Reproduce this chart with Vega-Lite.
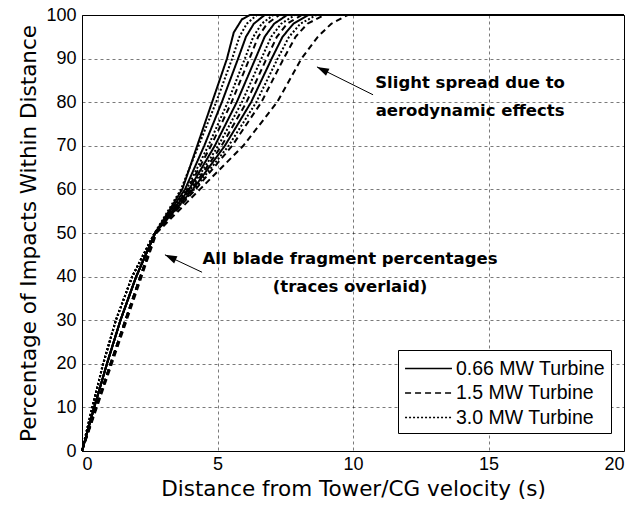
{
  "$schema": "https://vega.github.io/schema/vega-lite/v6.json",
  "width": 542,
  "height": 436,
  "autosize": {"type": "none"},
  "padding": {"left": 82, "top": 15, "right": 14, "bottom": 55},
  "background": "white",
  "config": {
    "view": {"stroke": "black", "strokeWidth": 1},
    "axis": {
      "domain": false,
      "ticks": false,
      "grid": true,
      "gridDash": [3, 3],
      "gridColor": "#000000",
      "gridWidth": 0.7,
      "gridOpacity": 0.75,
      "labelFont": "Liberation Sans",
      "labelFontSize": 18,
      "labelColor": "black",
      "titleFont": "DejaVu Sans",
      "titleFontSize": 21.5,
      "titleFontWeight": "normal",
      "titleColor": "black"
    }
  },
  "datasets": {
    "curves": [
      {"id": "S1", "turbine": "0.66 MW Turbine", "x": 0, "y": 0},
      {"id": "S1", "turbine": "0.66 MW Turbine", "x": 0.45, "y": 10},
      {"id": "S1", "turbine": "0.66 MW Turbine", "x": 0.92, "y": 20},
      {"id": "S1", "turbine": "0.66 MW Turbine", "x": 1.42, "y": 30},
      {"id": "S1", "turbine": "0.66 MW Turbine", "x": 2.0, "y": 40},
      {"id": "S1", "turbine": "0.66 MW Turbine", "x": 2.7, "y": 50},
      {"id": "S1", "turbine": "0.66 MW Turbine", "x": 3.7, "y": 60},
      {"id": "S1", "turbine": "0.66 MW Turbine", "x": 4.25, "y": 70},
      {"id": "S1", "turbine": "0.66 MW Turbine", "x": 4.8, "y": 80},
      {"id": "S1", "turbine": "0.66 MW Turbine", "x": 5.35, "y": 90},
      {"id": "S1", "turbine": "0.66 MW Turbine", "x": 5.6, "y": 96},
      {"id": "S1", "turbine": "0.66 MW Turbine", "x": 5.9, "y": 99},
      {"id": "S1", "turbine": "0.66 MW Turbine", "x": 6.2, "y": 100},
      {"id": "S1", "turbine": "0.66 MW Turbine", "x": 20, "y": 100},

      {"id": "T1", "turbine": "3.0 MW Turbine", "x": 0, "y": 0},
      {"id": "T1", "turbine": "3.0 MW Turbine", "x": 0.38, "y": 10},
      {"id": "T1", "turbine": "3.0 MW Turbine", "x": 0.78, "y": 20},
      {"id": "T1", "turbine": "3.0 MW Turbine", "x": 1.25, "y": 30},
      {"id": "T1", "turbine": "3.0 MW Turbine", "x": 1.85, "y": 40},
      {"id": "T1", "turbine": "3.0 MW Turbine", "x": 2.68, "y": 50},
      {"id": "T1", "turbine": "3.0 MW Turbine", "x": 3.65, "y": 60},
      {"id": "T1", "turbine": "3.0 MW Turbine", "x": 4.3, "y": 70},
      {"id": "T1", "turbine": "3.0 MW Turbine", "x": 4.95, "y": 80},
      {"id": "T1", "turbine": "3.0 MW Turbine", "x": 5.54, "y": 90},
      {"id": "T1", "turbine": "3.0 MW Turbine", "x": 5.81, "y": 95},
      {"id": "T1", "turbine": "3.0 MW Turbine", "x": 6.08, "y": 98},
      {"id": "T1", "turbine": "3.0 MW Turbine", "x": 6.45, "y": 100},
      {"id": "T1", "turbine": "3.0 MW Turbine", "x": 20, "y": 100},

      {"id": "S2", "turbine": "0.66 MW Turbine", "x": 0, "y": 0},
      {"id": "S2", "turbine": "0.66 MW Turbine", "x": 0.45, "y": 10},
      {"id": "S2", "turbine": "0.66 MW Turbine", "x": 0.92, "y": 20},
      {"id": "S2", "turbine": "0.66 MW Turbine", "x": 1.42, "y": 30},
      {"id": "S2", "turbine": "0.66 MW Turbine", "x": 2.0, "y": 40},
      {"id": "S2", "turbine": "0.66 MW Turbine", "x": 2.7, "y": 50},
      {"id": "S2", "turbine": "0.66 MW Turbine", "x": 3.8, "y": 60},
      {"id": "S2", "turbine": "0.66 MW Turbine", "x": 4.51, "y": 70},
      {"id": "S2", "turbine": "0.66 MW Turbine", "x": 5.16, "y": 80},
      {"id": "S2", "turbine": "0.66 MW Turbine", "x": 5.76, "y": 90},
      {"id": "S2", "turbine": "0.66 MW Turbine", "x": 6.05, "y": 95},
      {"id": "S2", "turbine": "0.66 MW Turbine", "x": 6.34, "y": 98},
      {"id": "S2", "turbine": "0.66 MW Turbine", "x": 6.74, "y": 100},
      {"id": "S2", "turbine": "0.66 MW Turbine", "x": 20, "y": 100},

      {"id": "T2", "turbine": "3.0 MW Turbine", "x": 0, "y": 0},
      {"id": "T2", "turbine": "3.0 MW Turbine", "x": 0.38, "y": 10},
      {"id": "T2", "turbine": "3.0 MW Turbine", "x": 0.78, "y": 20},
      {"id": "T2", "turbine": "3.0 MW Turbine", "x": 1.25, "y": 30},
      {"id": "T2", "turbine": "3.0 MW Turbine", "x": 1.85, "y": 40},
      {"id": "T2", "turbine": "3.0 MW Turbine", "x": 2.68, "y": 50},
      {"id": "T2", "turbine": "3.0 MW Turbine", "x": 3.86, "y": 60},
      {"id": "T2", "turbine": "3.0 MW Turbine", "x": 4.66, "y": 70},
      {"id": "T2", "turbine": "3.0 MW Turbine", "x": 5.38, "y": 80},
      {"id": "T2", "turbine": "3.0 MW Turbine", "x": 6.01, "y": 90},
      {"id": "T2", "turbine": "3.0 MW Turbine", "x": 6.32, "y": 95},
      {"id": "T2", "turbine": "3.0 MW Turbine", "x": 6.63, "y": 98},
      {"id": "T2", "turbine": "3.0 MW Turbine", "x": 7.06, "y": 100},
      {"id": "T2", "turbine": "3.0 MW Turbine", "x": 20, "y": 100},

      {"id": "D1", "turbine": "1.5 MW Turbine", "x": 0, "y": 0},
      {"id": "D1", "turbine": "1.5 MW Turbine", "x": 0.52, "y": 10},
      {"id": "D1", "turbine": "1.5 MW Turbine", "x": 1.05, "y": 20},
      {"id": "D1", "turbine": "1.5 MW Turbine", "x": 1.6, "y": 30},
      {"id": "D1", "turbine": "1.5 MW Turbine", "x": 2.15, "y": 40},
      {"id": "D1", "turbine": "1.5 MW Turbine", "x": 2.72, "y": 50},
      {"id": "D1", "turbine": "1.5 MW Turbine", "x": 3.9, "y": 60},
      {"id": "D1", "turbine": "1.5 MW Turbine", "x": 4.76, "y": 70},
      {"id": "D1", "turbine": "1.5 MW Turbine", "x": 5.52, "y": 80},
      {"id": "D1", "turbine": "1.5 MW Turbine", "x": 6.18, "y": 90},
      {"id": "D1", "turbine": "1.5 MW Turbine", "x": 6.5, "y": 95},
      {"id": "D1", "turbine": "1.5 MW Turbine", "x": 6.83, "y": 98},
      {"id": "D1", "turbine": "1.5 MW Turbine", "x": 7.28, "y": 100},
      {"id": "D1", "turbine": "1.5 MW Turbine", "x": 20, "y": 100},

      {"id": "S3", "turbine": "0.66 MW Turbine", "x": 0, "y": 0},
      {"id": "S3", "turbine": "0.66 MW Turbine", "x": 0.45, "y": 10},
      {"id": "S3", "turbine": "0.66 MW Turbine", "x": 0.92, "y": 20},
      {"id": "S3", "turbine": "0.66 MW Turbine", "x": 1.42, "y": 30},
      {"id": "S3", "turbine": "0.66 MW Turbine", "x": 2.0, "y": 40},
      {"id": "S3", "turbine": "0.66 MW Turbine", "x": 2.7, "y": 50},
      {"id": "S3", "turbine": "0.66 MW Turbine", "x": 3.95, "y": 60},
      {"id": "S3", "turbine": "0.66 MW Turbine", "x": 4.9, "y": 70},
      {"id": "S3", "turbine": "0.66 MW Turbine", "x": 5.71, "y": 80},
      {"id": "S3", "turbine": "0.66 MW Turbine", "x": 6.4, "y": 90},
      {"id": "S3", "turbine": "0.66 MW Turbine", "x": 6.74, "y": 95},
      {"id": "S3", "turbine": "0.66 MW Turbine", "x": 7.09, "y": 98},
      {"id": "S3", "turbine": "0.66 MW Turbine", "x": 7.57, "y": 100},
      {"id": "S3", "turbine": "0.66 MW Turbine", "x": 20, "y": 100},

      {"id": "T3", "turbine": "3.0 MW Turbine", "x": 0, "y": 0},
      {"id": "T3", "turbine": "3.0 MW Turbine", "x": 0.38, "y": 10},
      {"id": "T3", "turbine": "3.0 MW Turbine", "x": 0.78, "y": 20},
      {"id": "T3", "turbine": "3.0 MW Turbine", "x": 1.25, "y": 30},
      {"id": "T3", "turbine": "3.0 MW Turbine", "x": 1.85, "y": 40},
      {"id": "T3", "turbine": "3.0 MW Turbine", "x": 2.68, "y": 50},
      {"id": "T3", "turbine": "3.0 MW Turbine", "x": 4.0, "y": 60},
      {"id": "T3", "turbine": "3.0 MW Turbine", "x": 5.03, "y": 70},
      {"id": "T3", "turbine": "3.0 MW Turbine", "x": 5.9, "y": 80},
      {"id": "T3", "turbine": "3.0 MW Turbine", "x": 6.62, "y": 90},
      {"id": "T3", "turbine": "3.0 MW Turbine", "x": 6.98, "y": 95},
      {"id": "T3", "turbine": "3.0 MW Turbine", "x": 7.35, "y": 98},
      {"id": "T3", "turbine": "3.0 MW Turbine", "x": 7.86, "y": 100},
      {"id": "T3", "turbine": "3.0 MW Turbine", "x": 20, "y": 100},

      {"id": "D2", "turbine": "1.5 MW Turbine", "x": 0, "y": 0},
      {"id": "D2", "turbine": "1.5 MW Turbine", "x": 0.52, "y": 10},
      {"id": "D2", "turbine": "1.5 MW Turbine", "x": 1.05, "y": 20},
      {"id": "D2", "turbine": "1.5 MW Turbine", "x": 1.6, "y": 30},
      {"id": "D2", "turbine": "1.5 MW Turbine", "x": 2.15, "y": 40},
      {"id": "D2", "turbine": "1.5 MW Turbine", "x": 2.72, "y": 50},
      {"id": "D2", "turbine": "1.5 MW Turbine", "x": 4.04, "y": 60},
      {"id": "D2", "turbine": "1.5 MW Turbine", "x": 5.15, "y": 70},
      {"id": "D2", "turbine": "1.5 MW Turbine", "x": 6.07, "y": 80},
      {"id": "D2", "turbine": "1.5 MW Turbine", "x": 6.81, "y": 90},
      {"id": "D2", "turbine": "1.5 MW Turbine", "x": 7.19, "y": 95},
      {"id": "D2", "turbine": "1.5 MW Turbine", "x": 7.57, "y": 98},
      {"id": "D2", "turbine": "1.5 MW Turbine", "x": 8.11, "y": 100},
      {"id": "D2", "turbine": "1.5 MW Turbine", "x": 20, "y": 100},

      {"id": "S4", "turbine": "0.66 MW Turbine", "x": 0, "y": 0},
      {"id": "S4", "turbine": "0.66 MW Turbine", "x": 0.45, "y": 10},
      {"id": "S4", "turbine": "0.66 MW Turbine", "x": 0.92, "y": 20},
      {"id": "S4", "turbine": "0.66 MW Turbine", "x": 1.42, "y": 30},
      {"id": "S4", "turbine": "0.66 MW Turbine", "x": 2.0, "y": 40},
      {"id": "S4", "turbine": "0.66 MW Turbine", "x": 2.7, "y": 50},
      {"id": "S4", "turbine": "0.66 MW Turbine", "x": 4.09, "y": 60},
      {"id": "S4", "turbine": "0.66 MW Turbine", "x": 5.27, "y": 70},
      {"id": "S4", "turbine": "0.66 MW Turbine", "x": 6.24, "y": 80},
      {"id": "S4", "turbine": "0.66 MW Turbine", "x": 7.0, "y": 90},
      {"id": "S4", "turbine": "0.66 MW Turbine", "x": 7.4, "y": 95},
      {"id": "S4", "turbine": "0.66 MW Turbine", "x": 7.8, "y": 98},
      {"id": "S4", "turbine": "0.66 MW Turbine", "x": 8.36, "y": 100},
      {"id": "S4", "turbine": "0.66 MW Turbine", "x": 20, "y": 100},

      {"id": "T4", "turbine": "3.0 MW Turbine", "x": 0, "y": 0},
      {"id": "T4", "turbine": "3.0 MW Turbine", "x": 0.38, "y": 10},
      {"id": "T4", "turbine": "3.0 MW Turbine", "x": 0.78, "y": 20},
      {"id": "T4", "turbine": "3.0 MW Turbine", "x": 1.25, "y": 30},
      {"id": "T4", "turbine": "3.0 MW Turbine", "x": 1.85, "y": 40},
      {"id": "T4", "turbine": "3.0 MW Turbine", "x": 2.68, "y": 50},
      {"id": "T4", "turbine": "3.0 MW Turbine", "x": 4.14, "y": 60},
      {"id": "T4", "turbine": "3.0 MW Turbine", "x": 5.41, "y": 70},
      {"id": "T4", "turbine": "3.0 MW Turbine", "x": 6.43, "y": 80},
      {"id": "T4", "turbine": "3.0 MW Turbine", "x": 7.22, "y": 90},
      {"id": "T4", "turbine": "3.0 MW Turbine", "x": 7.64, "y": 95},
      {"id": "T4", "turbine": "3.0 MW Turbine", "x": 8.06, "y": 98},
      {"id": "T4", "turbine": "3.0 MW Turbine", "x": 8.65, "y": 100},
      {"id": "T4", "turbine": "3.0 MW Turbine", "x": 20, "y": 100},

      {"id": "D3", "turbine": "1.5 MW Turbine", "x": 0, "y": 0},
      {"id": "D3", "turbine": "1.5 MW Turbine", "x": 0.52, "y": 10},
      {"id": "D3", "turbine": "1.5 MW Turbine", "x": 1.05, "y": 20},
      {"id": "D3", "turbine": "1.5 MW Turbine", "x": 1.6, "y": 30},
      {"id": "D3", "turbine": "1.5 MW Turbine", "x": 2.15, "y": 40},
      {"id": "D3", "turbine": "1.5 MW Turbine", "x": 2.72, "y": 50},
      {"id": "D3", "turbine": "1.5 MW Turbine", "x": 4.19, "y": 60},
      {"id": "D3", "turbine": "1.5 MW Turbine", "x": 5.54, "y": 70},
      {"id": "D3", "turbine": "1.5 MW Turbine", "x": 6.62, "y": 80},
      {"id": "D3", "turbine": "1.5 MW Turbine", "x": 7.44, "y": 90},
      {"id": "D3", "turbine": "1.5 MW Turbine", "x": 7.88, "y": 95},
      {"id": "D3", "turbine": "1.5 MW Turbine", "x": 8.32, "y": 98},
      {"id": "D3", "turbine": "1.5 MW Turbine", "x": 8.94, "y": 100},
      {"id": "D3", "turbine": "1.5 MW Turbine", "x": 20, "y": 100},

      {"id": "D4", "turbine": "1.5 MW Turbine", "x": 0, "y": 0},
      {"id": "D4", "turbine": "1.5 MW Turbine", "x": 0.55, "y": 10},
      {"id": "D4", "turbine": "1.5 MW Turbine", "x": 1.1, "y": 20},
      {"id": "D4", "turbine": "1.5 MW Turbine", "x": 1.65, "y": 30},
      {"id": "D4", "turbine": "1.5 MW Turbine", "x": 2.2, "y": 40},
      {"id": "D4", "turbine": "1.5 MW Turbine", "x": 2.75, "y": 50},
      {"id": "D4", "turbine": "1.5 MW Turbine", "x": 4.35, "y": 60},
      {"id": "D4", "turbine": "1.5 MW Turbine", "x": 5.95, "y": 70},
      {"id": "D4", "turbine": "1.5 MW Turbine", "x": 7.2, "y": 80},
      {"id": "D4", "turbine": "1.5 MW Turbine", "x": 8.1, "y": 90},
      {"id": "D4", "turbine": "1.5 MW Turbine", "x": 8.7, "y": 95},
      {"id": "D4", "turbine": "1.5 MW Turbine", "x": 9.2, "y": 98},
      {"id": "D4", "turbine": "1.5 MW Turbine", "x": 9.8, "y": 100},
      {"id": "D4", "turbine": "1.5 MW Turbine", "x": 20, "y": 100}
    ],
    "notes": [
      {"x": 9.89, "y": 44.0, "t": "All blade fragment percentages"},
      {"x": 9.89, "y": 37.6, "t": "(traces overlaid)"},
      {"x": 14.32, "y": 84.4, "t": "Slight spread due to"},
      {"x": 14.32, "y": 78.0, "t": "aerodynamic effects"}
    ],
    "arrows": [
      {"x": 4.43, "y": 41.0, "x2": 3.06, "y2": 45.0, "angle": 25},
      {"x": 10.74, "y": 81.7, "x2": 8.67, "y2": 88.1, "angle": 26}
    ]
  },
  "layer": [
    {
      "data": {"name": "curves"},
      "mark": {"type": "line", "strokeWidth": 2, "color": "black"},
      "encoding": {
        "x": {
          "field": "x", "type": "quantitative",
          "scale": {"domain": [0, 20], "nice": false},
          "axis": {"values": [0, 5, 10, 15, 20], "title": "Distance from Tower/CG velocity (s)", "labelPadding": 4, "titlePadding": 5}
        },
        "y": {
          "field": "y", "type": "quantitative",
          "scale": {"domain": [0, 100], "nice": false},
          "axis": {"values": [0, 10, 20, 30, 40, 50, 60, 70, 80, 90, 100], "title": "Percentage of Impacts Within Distance", "labelPadding": 6, "titlePadding": 5}
        },
        "detail": {"field": "id"},
        "strokeDash": {
          "field": "turbine", "type": "nominal",
          "scale": {
            "domain": ["0.66 MW Turbine", "1.5 MW Turbine", "3.0 MW Turbine"],
            "range": [[1, 0], [6, 4], [2, 2]]
          },
          "legend": {
            "title": null,
            "orient": "none",
            "legendX": 316,
            "legendY": 335,
            "direction": "vertical",
            "strokeColor": "black",
            "fillColor": "white",
            "padding": 6,
            "symbolType": "M-2,0H2",
            "symbolSize": 550,
            "symbolOffset": 12,
            "symbolStrokeColor": "black",
            "symbolStrokeWidth": 1.5,
            "labelFont": "Liberation Sans",
            "labelFontSize": 19.5,
            "labelColor": "black",
            "labelOffset": 15,
            "rowPadding": 2.5
          }
        }
      }
    },
    {
      "data": {"name": "arrows"},
      "mark": {"type": "rule", "color": "black", "strokeWidth": 1},
      "encoding": {
        "x": {"field": "x", "type": "quantitative"},
        "y": {"field": "y", "type": "quantitative"},
        "x2": {"field": "x2"},
        "y2": {"field": "y2"}
      }
    },
    {
      "data": {"name": "arrows"},
      "mark": {"type": "point", "filled": true, "color": "black", "opacity": 1, "shape": "M0,0L2,-0.65L2,0.65Z", "size": 144},
      "encoding": {
        "x": {"field": "x2", "type": "quantitative"},
        "y": {"field": "y2", "type": "quantitative"},
        "angle": {"field": "angle", "type": "quantitative", "scale": null}
      }
    },
    {
      "data": {"name": "notes"},
      "mark": {"type": "text", "font": "DejaVu Sans", "fontWeight": "bold", "fontSize": 16.5, "color": "black", "align": "center", "baseline": "middle"},
      "encoding": {
        "x": {"field": "x", "type": "quantitative"},
        "y": {"field": "y", "type": "quantitative"},
        "text": {"field": "t"}
      }
    }
  ]
}
